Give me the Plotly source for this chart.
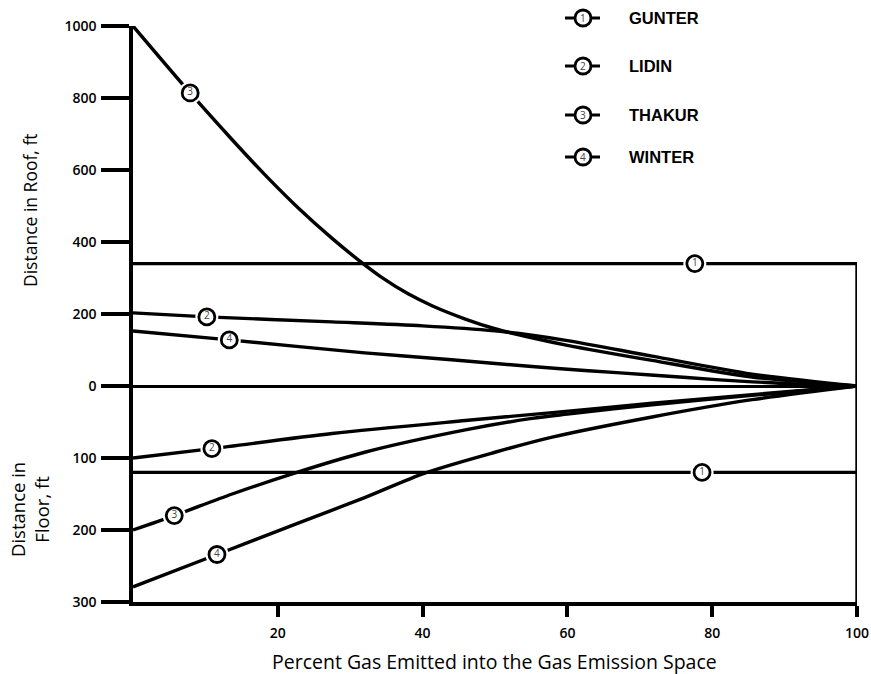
import plotly.graph_objects as go

# ---------------- data (x = percent gas emitted, values in ft) ----------------
gunter_roof_x = [0, 100]
gunter_roof_v = [340, 340]
gunter_floor_x = [0, 100]
gunter_floor_v = [120, 120]

lidin_roof_x = [0, 10.2, 27.5, 40, 50, 55.1, 60, 71.7, 85.5, 100]
lidin_roof_v = [203, 192, 178, 167, 153, 141, 126, 83, 33, 0]
lidin_floor_x = [0, 10.9, 27.5, 45.9, 57.9, 71.7, 85.5, 100]
lidin_floor_v = [100, 87, 66, 48, 37, 24, 12, 0]

thakur_roof_x = [0, 7.9, 13.7, 18.2, 22.9, 27.5, 31.2, 34.4, 38, 41.3, 45.9, 50, 55.1, 60, 71.7, 85.5, 100]
thakur_roof_v = [1000, 814, 684, 587, 493, 410, 349, 301, 256, 223, 186, 159, 134, 113, 71, 25, 0]
thakur_floor_x = [0, 5.7, 13.7, 22, 32, 45.9, 55.1, 60, 71.7, 85.5, 100]
thakur_floor_v = [200, 180, 150, 122, 92, 61, 45, 39, 26, 13, 0]

winter_roof_x = [0, 13.3, 32, 44, 55.1, 62.4, 72, 81, 90, 100]
winter_roof_v = [153, 128, 92, 73, 54, 43, 30, 17, 7, 0]
winter_floor_x = [0, 11.6, 22.9, 32, 40.3, 50, 57.9, 71.7, 85.5, 100]
winter_floor_v = [279, 234, 190, 155, 121, 92, 71, 43, 19, 0]

# circled curve labels: (series number, side, x, value)
label_num = ["3", "1", "2", "4", "2", "1", "3", "4"]
label_side = ["roof", "roof", "roof", "roof", "floor", "floor", "floor", "floor"]
label_x = [7.9, 77.6, 10.2, 13.3, 10.9, 78.6, 5.7, 11.6]
label_v = [814, 340, 192, 128, 87, 120, 180, 234]

legend_names = ["GUNTER", "LIDIN", "THAKUR", "WINTER"]
legend_nums = ["1", "2", "3", "4"]

roof_ticks = [1000, 800, 600, 400, 200, 0]
floor_ticks = [100, 200, 300]
x_ticks = [20, 40, 60, 80, 100]

# ---------------- scale: floor drawn at double scale below zero ----------------
FLOOR_FACTOR = 2.0


def to_y(values, side):
    if side == "roof":
        return list(values)
    return [-FLOOR_FACTOR * v for v in values]


Y_MIN = -FLOOR_FACTOR * max(floor_ticks)
Y_MAX = max(roof_ticks)

LW = 3.4
fig = go.Figure()

curves = [
    (gunter_roof_x, gunter_roof_v, "roof"),
    (gunter_floor_x, gunter_floor_v, "floor"),
    (lidin_roof_x, lidin_roof_v, "roof"),
    (lidin_floor_x, lidin_floor_v, "floor"),
    (thakur_roof_x, thakur_roof_v, "roof"),
    (thakur_floor_x, thakur_floor_v, "floor"),
    (winter_roof_x, winter_roof_v, "roof"),
    (winter_floor_x, winter_floor_v, "floor"),
]
for xs, vs, side in curves:
    fig.add_trace(go.Scatter(
        x=xs, y=to_y(vs, side), mode="lines",
        line=dict(color="black", width=LW, shape="spline", smoothing=0.8),
        cliponaxis=False, showlegend=False, hoverinfo="skip"))

# right-hand closing line of the GUNTER zone
fig.add_trace(go.Scatter(
    x=[gunter_roof_x[-1], gunter_roof_x[-1]], y=[to_y(gunter_roof_v, "roof")[-1], Y_MIN],
    mode="lines", line=dict(color="black", width=LW),
    cliponaxis=False, showlegend=False, hoverinfo="skip"))

# circled labels on curves
lab_y = [to_y([v], s)[0] for v, s in zip(label_v, label_side)]
fig.add_trace(go.Scatter(
    x=label_x, y=lab_y, mode="markers",
    marker=dict(size=23, color="white", line=dict(width=0)),
    cliponaxis=False, showlegend=False, hoverinfo="skip"))
fig.add_trace(go.Scatter(
    x=label_x, y=lab_y, mode="markers+text", text=label_num,
    textposition="middle center",
    textfont=dict(family="Open Sans", size=10, color="#444"),
    marker=dict(size=16, color="white", line=dict(width=2.8, color="black")),
    cliponaxis=False, showlegend=False, hoverinfo="skip"))

# ---------------- layout ----------------
W, H = 871, 674
ML, MR, MT, MB = 133, 14, 26, 72
PW, PH = W - ML - MR, H - MT - MB

fig.update_layout(
    width=W, height=H, autosize=False,
    margin=dict(l=ML, r=MR, t=MT, b=MB, pad=0, autoexpand=False),
    plot_bgcolor="white", paper_bgcolor="white",
    showlegend=False,
    font=dict(family="Open Sans", color="black"),
)
fig.update_xaxes(
    range=[0, 100], showgrid=False, zeroline=False, automargin=False,
    showline=True, linecolor="black", linewidth=3.5,
    ticks="outside", ticklen=11, tickwidth=3.5, tickcolor="black",
    tickvals=x_ticks, ticktext=[str(t) for t in x_ticks],
    tickfont=dict(family="Open Sans", size=14, color="black", weight=600),
    ticklabelstandoff=4,
)
ytickvals = to_y(roof_ticks, "roof") + to_y(floor_ticks, "floor")
yticktext = [str(t) for t in roof_ticks] + [str(t) for t in floor_ticks]
fig.update_yaxes(
    range=[Y_MIN, Y_MAX], showgrid=False, automargin=False,
    zeroline=True, zerolinecolor="black", zerolinewidth=3.4,
    showline=True, linecolor="black", linewidth=3.5,
    ticks="outside", ticklen=28, tickwidth=3.5, tickcolor="black",
    tickvals=ytickvals, ticktext=yticktext,
    tickfont=dict(family="Open Sans", size=14, color="black", weight=600),
    ticklabelstandoff=2,
)


def px_to_paper(px, py):
    return (px - ML) / PW, (H - MB - py) / PH


annotations = []
shapes = []
# axis titles
tx, ty = px_to_paper(494, 661)
annotations.append(dict(text="Percent Gas Emitted into the Gas Emission Space",
                        x=tx, y=ty, xref="paper", yref="paper", showarrow=False,
                        xanchor="center", yanchor="middle",
                        font=dict(family="Open Sans", size=19.5, color="black")))
tx, ty = px_to_paper(30, 210)
annotations.append(dict(text="Distance in Roof, ft", x=tx, y=ty, xref="paper", yref="paper",
                        showarrow=False, textangle=-90, xanchor="center", yanchor="middle",
                        font=dict(family="Open Sans", size=17.5, color="black")))
tx, ty = px_to_paper(29, 510)
annotations.append(dict(text="Distance in<br>Floor, ft", x=tx, y=ty, xref="paper", yref="paper",
                        showarrow=False, textangle=-90, xanchor="center", yanchor="middle",
                        font=dict(family="Open Sans", size=18.5, color="black")))

# legend (drawn manually)
leg_rows = [18, 66, 115, 157]
for name, num, py in zip(legend_names, legend_nums, leg_rows):
    x0, y0 = px_to_paper(565, py)
    x1, _ = px_to_paper(600, py)
    shapes.append(dict(type="line", xref="paper", yref="paper", x0=x0, x1=x1, y0=y0, y1=y0,
                       line=dict(color="black", width=3)))
    cx, cy = px_to_paper(583, py)
    shapes.append(dict(type="circle", xref="paper", yref="paper",
                       xsizemode="pixel", ysizemode="pixel", xanchor=cx, yanchor=cy,
                       x0=-8, x1=8, y0=-8, y1=8,
                       fillcolor="white", line=dict(color="black", width=2.8)))
    annotations.append(dict(text=num, x=cx, y=cy, xref="paper", yref="paper", showarrow=False,
                            xanchor="center", yanchor="middle",
                            font=dict(family="Open Sans", size=10, color="#444")))
    lx, ly = px_to_paper(627, py)
    annotations.append(dict(text=name, x=lx, y=ly, xref="paper", yref="paper", showarrow=False,
                            xanchor="left", yanchor="middle",
                            font=dict(family="Liberation Sans", size=16.5, color="black", weight="bold")))

fig.update_layout(annotations=annotations, shapes=shapes)
fig.write_html("out.html")
